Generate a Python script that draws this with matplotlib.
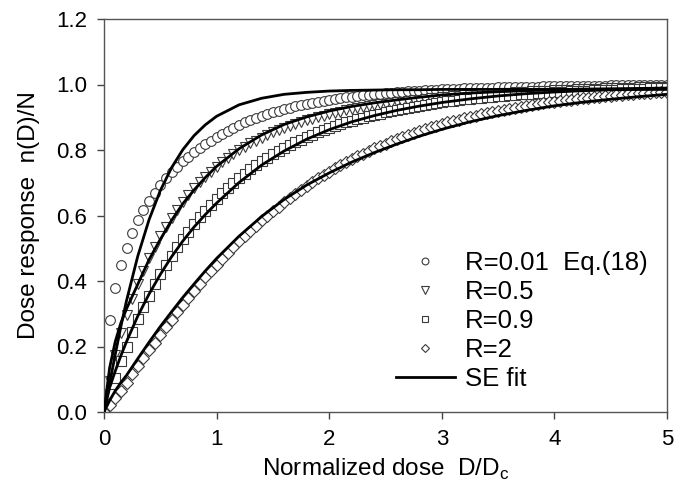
import matplotlib
matplotlib.use("Agg")
import matplotlib.pyplot as plt
import numpy as np

plt.rcParams['font.family'] = ['Liberation Sans', 'DejaVu Sans']
plt.rcParams['mathtext.fontset'] = 'custom'
plt.rcParams['mathtext.rm'] = 'Liberation Sans'

# ---- data (x grid of markers: 0 .. 5 step 0.05) ----
x_pts = [round(0.05 * i, 2) for i in range(101)]

r001_pts = [0, 0.28, 0.38, 0.45, 0.50, 0.548, 0.585, 0.618, 0.645, 0.67,
            0.693, 0.713, 0.732, 0.749, 0.765, 0.78, 0.793, 0.806, 0.818, 0.829,
            0.84, 0.85, 0.859, 0.868, 0.876, 0.884, 0.891, 0.898, 0.904, 0.91,
            0.915, 0.92, 0.925, 0.929, 0.933, 0.937, 0.941, 0.944, 0.947, 0.95,
            0.953, 0.956, 0.958, 0.961, 0.963, 0.965, 0.967, 0.969, 0.971, 0.972,
            0.974, 0.975, 0.977, 0.978, 0.979, 0.980, 0.981, 0.982, 0.983, 0.984,
            0.985, 0.986, 0.986, 0.987, 0.988, 0.988, 0.989, 0.989, 0.990, 0.990,
            0.991, 0.991, 0.992, 0.992, 0.992, 0.993, 0.993, 0.993, 0.994, 0.994,
            0.994, 0.995, 0.995, 0.995, 0.995, 0.996, 0.996, 0.996, 0.996, 0.996,
            0.997, 0.997, 0.997, 0.997, 0.997, 0.998, 0.998, 0.998, 0.998, 0.998,
            0.998]

r05_pts = [0, 0.095, 0.175, 0.24, 0.295, 0.345, 0.39, 0.432, 0.47, 0.505,
           0.537, 0.566, 0.593, 0.618, 0.641, 0.663, 0.683, 0.701, 0.718, 0.734,
           0.749, 0.763, 0.776, 0.788, 0.799, 0.81, 0.82, 0.829, 0.838, 0.846,
           0.854, 0.861, 0.868, 0.874, 0.88, 0.886, 0.891, 0.896, 0.901, 0.905,
           0.909, 0.913, 0.917, 0.921, 0.924, 0.927, 0.93, 0.933, 0.936, 0.939,
           0.941, 0.944, 0.946, 0.948, 0.95, 0.952, 0.954, 0.956, 0.958, 0.959,
           0.961, 0.962, 0.964, 0.965, 0.967, 0.968, 0.969, 0.970, 0.971, 0.972,
           0.973, 0.974, 0.975, 0.976, 0.977, 0.978, 0.979, 0.980, 0.980, 0.981,
           0.982, 0.983, 0.983, 0.984, 0.985, 0.985, 0.986, 0.986, 0.987, 0.988,
           0.988, 0.989, 0.989, 0.990, 0.990, 0.991, 0.991, 0.992, 0.992, 0.993,
           0.993]

r09_pts = [0, 0.055, 0.105, 0.155, 0.20, 0.243, 0.283, 0.32, 0.355, 0.39,
           0.42, 0.45, 0.477, 0.503, 0.528, 0.551, 0.573, 0.594, 0.614, 0.633,
           0.651, 0.668, 0.684, 0.699, 0.714, 0.728, 0.741, 0.753, 0.765, 0.776,
           0.787, 0.797, 0.806, 0.815, 0.824, 0.832, 0.84, 0.847, 0.854, 0.861,
           0.867, 0.873, 0.879, 0.884, 0.889, 0.894, 0.899, 0.903, 0.907, 0.911,
           0.915, 0.919, 0.922, 0.925, 0.929, 0.932, 0.935, 0.938, 0.941, 0.944,
           0.946, 0.949, 0.951, 0.953, 0.955, 0.957, 0.959, 0.960, 0.962, 0.963,
           0.965, 0.966, 0.968, 0.969, 0.970, 0.971, 0.972, 0.973, 0.974, 0.975,
           0.976, 0.977, 0.978, 0.979, 0.979, 0.980, 0.981, 0.982, 0.982, 0.983,
           0.984, 0.984, 0.985, 0.985, 0.986, 0.987, 0.987, 0.988, 0.988, 0.989,
           0.989]

r2_pts = [0, 0.02, 0.042, 0.065, 0.09, 0.115, 0.139, 0.164, 0.188, 0.212,
          0.236, 0.259, 0.282, 0.305, 0.327, 0.349, 0.37, 0.391, 0.411, 0.431,
          0.45, 0.468, 0.486, 0.504, 0.521, 0.537, 0.554, 0.569, 0.585, 0.599,
          0.613, 0.627, 0.641, 0.654, 0.667, 0.679, 0.691, 0.702, 0.713, 0.724,
          0.734, 0.744, 0.754, 0.763, 0.772, 0.781, 0.789, 0.797, 0.805, 0.812,
          0.819, 0.826, 0.833, 0.84, 0.846, 0.852, 0.858, 0.863, 0.869, 0.874,
          0.879, 0.884, 0.888, 0.893, 0.897, 0.901, 0.905, 0.909, 0.913, 0.917,
          0.92, 0.923, 0.926, 0.929, 0.932, 0.935, 0.938, 0.941, 0.943, 0.946,
          0.948, 0.950, 0.952, 0.954, 0.956, 0.958, 0.960, 0.962, 0.963, 0.965,
          0.966, 0.968, 0.969, 0.970, 0.972, 0.973, 0.974, 0.975, 0.976, 0.977,
          0.978]

# ---- SE fit curves ----
x_fit = [0, 0.05, 0.1, 0.15, 0.2, 0.3, 0.4, 0.5, 0.6, 0.7, 0.8, 0.9, 1.0,
         1.2, 1.4, 1.6, 1.8, 2.0, 2.2, 2.4, 2.6, 2.8, 3.0, 3.25, 3.5, 3.75,
         4.0, 4.25, 4.5, 4.75, 5.0]

fit_r001 = [0, 0.087, 0.176, 0.261, 0.34, 0.476, 0.587, 0.676, 0.746, 0.801,
            0.844, 0.877, 0.903, 0.938, 0.958, 0.970, 0.976, 0.980, 0.982, 0.983,
            0.984, 0.984, 0.985, 0.985, 0.985, 0.985, 0.985, 0.985, 0.985, 0.985,
            0.985]
fit_r05 = [0, 0.135, 0.215, 0.272, 0.315, 0.39, 0.465, 0.527, 0.585, 0.636,
           0.678, 0.716, 0.75, 0.804, 0.846, 0.878, 0.901, 0.919, 0.933, 0.944,
           0.953, 0.961, 0.968, 0.974, 0.978, 0.981, 0.984, 0.986, 0.987, 0.988,
           0.989]
fit_r09 = [0, 0.075, 0.125, 0.172, 0.215, 0.293, 0.36, 0.42, 0.474, 0.522,
           0.565, 0.603, 0.638, 0.701, 0.754, 0.797, 0.833, 0.862, 0.886, 0.905,
           0.921, 0.934, 0.945, 0.956, 0.965, 0.972, 0.977, 0.981, 0.984, 0.986,
           0.988]
fit_r2 = [0, 0.035, 0.065, 0.09, 0.112, 0.163, 0.213, 0.261, 0.306, 0.35,
          0.391, 0.431, 0.469, 0.537, 0.597, 0.649, 0.693, 0.730, 0.763, 0.792,
          0.818, 0.842, 0.863, 0.886, 0.905, 0.921, 0.935, 0.946, 0.955, 0.963,
          0.97]

labels = ["R=0.01  Eq.(18)", "R=0.5", "R=0.9", "R=2", "SE fit"]
x_ticks = [0, 1, 2, 3, 4, 5]
y_ticks = [0.0, 0.2, 0.4, 0.6, 0.8, 1.0, 1.2]

fig = plt.figure(figsize=(6.74, 5.0), dpi=100)
ax = fig.add_axes([104 / 674, 1 - 412 / 500, (667 - 104) / 674, (412 - 19) / 500])

mk = dict(linestyle='none', markerfacecolor='white', markeredgecolor='#3a3a3a',
          markeredgewidth=0.8, zorder=2)
h1, = ax.plot(x_pts, r001_pts, marker='o', markersize=7, **mk)
h2, = ax.plot(x_pts, r05_pts, marker='v', markersize=7.5, **mk)
h3, = ax.plot(x_pts, r09_pts, marker='s', markersize=6.5, **mk)
h4, = ax.plot(x_pts, r2_pts, marker='D', markersize=6, **mk)

for fy in (fit_r001, fit_r05, fit_r09, fit_r2):
    hl, = ax.plot(x_fit, fy, color='black', linewidth=2.0, zorder=3)

ax.set_xlim(0, 5)
ax.set_ylim(0, 1.2)
ax.set_xticks(x_ticks)
ax.set_xticklabels([str(v) for v in x_ticks])
ax.set_yticks(y_ticks)
ax.set_yticklabels([f"{v:.1f}" for v in y_ticks])
ax.tick_params(direction='out', length=5, width=1, labelsize=16, pad=7, color='#444444')
for s in ax.spines.values():
    s.set_color('#555555')
    s.set_linewidth(1.0)

ax.set_xlabel("Normalized dose  D/D$_\\mathrm{c}$", fontsize=17.5, labelpad=5)
ax.set_ylabel("Dose response  n(D)/N", fontsize=17.5, labelpad=12)

leg = ax.legend([h1, h2, h3, h4, hl], labels, loc='upper left',
                bbox_to_anchor=(0.5, 0.437), frameon=False, fontsize=18.5,
                markerscale=0.7, handlelength=2.3, handletextpad=0.4,
                labelspacing=0.2, borderaxespad=0)

fig.savefig("out.png", dpi=100)
